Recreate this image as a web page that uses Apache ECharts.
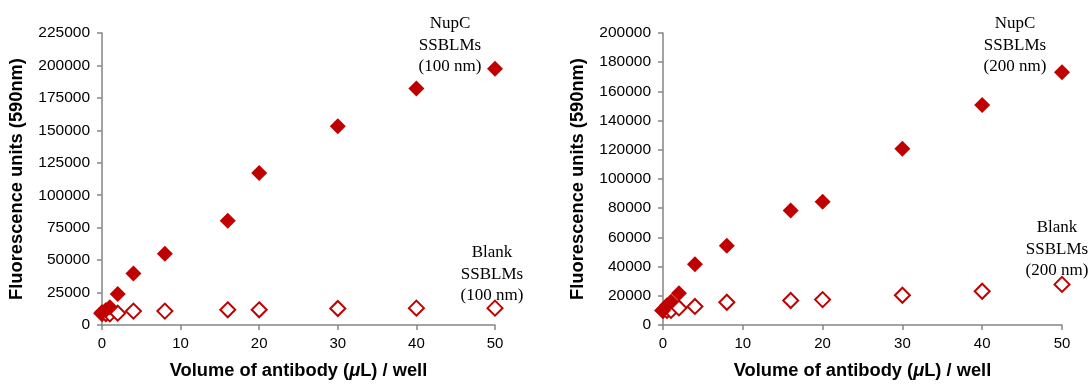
<!DOCTYPE html>
<html>
<head>
<meta charset="utf-8">
<script src="https://cdn.jsdelivr.net/npm/echarts@6/dist/echarts.min.js"></script>
<style>
html,body{margin:0;padding:0;background:#fff;}
#main{width:1091px;height:385px;}
</style>
</head>
<body>
<div id="main"></div>
<script>
// volumes of antibody (uL) per well
var volumes = [0, 0.5, 1, 2, 4, 8, 16, 20, 30, 40, 50];

// 100 nm SSBLMs
var nupc100  = [9900, 11500, 13700, 23800, 39600, 54900, 80300, 117100, 153200, 182200, 197400];
var blank100 = [9000, 8800, 8600, 9100, 10700, 10700, 11700, 11700, 12700, 13000, 13000];

// 200 nm SSBLMs
var nupc200  = [10000, 13500, 16000, 21700, 41600, 54300, 78500, 84400, 120800, 150700, 173200];
var blank200 = [10000, 10000, 10000, 11700, 12700, 15600, 16800, 17400, 20400, 23100, 27800];

var red = '#C00000';
var axisGrey = '#868686';

function pairs(xs, ys){
	var out=[];
	for(var i=0;i<xs.length;i++){ out.push([xs[i], ys[i]]); }
	return out;
}

function xAxisOpt(idx){
	return {
		type:'value', gridIndex:idx, min:0, max:50, interval:10,
		name:'{b|Volume of antibody (}{i|μ}{b|L) / well}',
		nameLocation:'middle', nameGap:37,
		nameTextStyle:{
			rich:{
				b:{fontFamily:'Liberation Sans',fontWeight:'bold',fontSize:18.3,color:'#000'},
				i:{fontFamily:'Liberation Sans',fontWeight:'bold',fontStyle:'italic',fontSize:18.3,color:'#000'}
			}
		},
		axisLine:{show:true,lineStyle:{color:axisGrey,width:1.5}},
		axisTick:{show:true,inside:false,length:5,lineStyle:{color:axisGrey,width:1.5}},
		axisLabel:{fontFamily:'Liberation Sans',fontSize:15,color:'#000',margin:11},
		splitLine:{show:false}
	};
}

function yAxisOpt(idx, max, step){
	return {
		type:'value', gridIndex:idx, min:0, max:max, interval:step,
		name:'Fluorescence units (590nm)',
		nameLocation:'middle', nameGap:76, nameRotate:90,
		nameTextStyle:{fontFamily:'Liberation Sans',fontWeight:'bold',fontSize:18.3,color:'#000'},
		axisLine:{show:true,lineStyle:{color:axisGrey,width:1.5}},
		axisTick:{show:true,inside:false,length:5,lineStyle:{color:axisGrey,width:1.5}},
		axisLabel:{fontFamily:'Liberation Sans',fontSize:15.5,color:'#000',margin:12,
			formatter:function(v){ return String(v); }},
		splitLine:{show:false}
	};
}

function filled(idx, data){
	return {type:'scatter',xAxisIndex:idx,yAxisIndex:idx,data:data,
		symbol:'diamond',symbolSize:16,itemStyle:{color:red,opacity:1},z:3};
}
function hollow(idx, data){
	return {type:'scatter',xAxisIndex:idx,yAxisIndex:idx,data:data,
		symbol:'emptyDiamond',symbolSize:15,itemStyle:{color:red,borderColor:red,borderWidth:2,opacity:1},z:2};
}

var noteFont = '17px "Liberation Serif"';

var chart = echarts.init(document.getElementById('main'));
chart.setOption({
	animation:false,
	backgroundColor:'#fff',
	grid:[
		{left:102,top:33,width:393,bottom:57},
		{left:663,top:33,width:399,bottom:57}
	],
	xAxis:[xAxisOpt(0), xAxisOpt(1)],
	yAxis:[yAxisOpt(0,225000,25000), yAxisOpt(1,200000,20000)],
	series:[
		hollow(0, pairs(volumes, blank100)),
		filled(0, pairs(volumes, nupc100)),
		hollow(1, pairs(volumes, blank200)),
		filled(1, pairs(volumes, nupc200))
	],
	graphic:[
		{type:'text',x:450,y:13,style:{text:'NupC\nSSBLMs\n(100 nm)',align:'center',font:noteFont,fill:'#000',lineHeight:21.5}},
		{type:'text',x:492,y:242,style:{text:'Blank\nSSBLMs\n(100 nm)',align:'center',font:noteFont,fill:'#000',lineHeight:21.5}},
		{type:'text',x:1015,y:13,style:{text:'NupC\nSSBLMs\n(200 nm)',align:'center',font:noteFont,fill:'#000',lineHeight:21.5}},
		{type:'text',x:1057,y:217,style:{text:'Blank\nSSBLMs\n(200 nm)',align:'center',font:noteFont,fill:'#000',lineHeight:21.5}}
	]
});
</script>
</body>
</html>
